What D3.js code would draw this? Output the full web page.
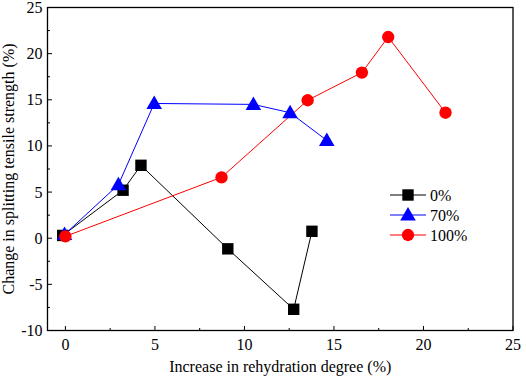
<!DOCTYPE html>
<html><head><meta charset="utf-8">
<script src="https://cdn.jsdelivr.net/npm/d3@7"></script>
<style>body{margin:0;background:#fff}svg{display:block}text{font-family:"Liberation Serif","Times New Roman",serif}</style>
</head><body>
<svg id="c" width="526" height="377"></svg>
<script>
const seriesNames = ["0%", "70%", "100%"];
const x0 = [-0.15, 3.22, 4.22, 9.07, 12.75, 13.77];
const y0 = [0.3, 5.2, 7.9, -1.15, -7.7, 0.75];
const x70 = [-0.05, 2.96, 4.96, 10.5, 12.55, 14.6];
const y70 = [0.4, 5.8, 14.6, 14.5, 13.6, 10.6];
const x100 = [0.0, 8.72, 13.53, 16.56, 18.03, 21.23];
const y100 = [0.2, 6.6, 14.95, 17.95, 21.8, 13.6];
const xTicks = [0, 5, 10, 15, 20, 25];
const yTicks = [-10, -5, 0, 5, 10, 15, 20, 25];
const xLabel = "Increase in rehydration degree (%)";
const yLabel = "Change in splitting tensile strength (%)";

const svg = d3.select("#c");
const L = 47.5, R = 513, T = 7.5, B = 330.5;
const x = d3.scaleLinear().domain([-1, 25]).range([L, R]);
const y = d3.scaleLinear().domain([-10, 25]).range([B, T]);

const series = [
  {name: seriesNames[0], xs: x0, ys: y0, color: "#000000", shape: "square"},
  {name: seriesNames[1], xs: x70, ys: y70, color: "#0000ff", shape: "triangle"},
  {name: seriesNames[2], xs: x100, ys: y100, color: "#ff0000", shape: "circle"}
];

// frame
svg.append("rect").attr("x", L).attr("y", T).attr("width", R - L).attr("height", B - T)
  .attr("fill", "none").attr("stroke", "#000").attr("stroke-width", 1.3);

// x axis
const xMinor = d3.range(2.5, 25, 5);
const gx = svg.append("g");
xTicks.forEach(t => {
  gx.append("line").attr("x1", x(t)).attr("x2", x(t)).attr("y1", B).attr("y2", B - 4.5).attr("stroke", "#000").attr("stroke-width", 1);
  gx.append("text").attr("x", x(t)).attr("y", B + 19.5).attr("text-anchor", "middle").attr("font-size", 16).text(t);
});
xMinor.forEach(t => {
  gx.append("line").attr("x1", x(t)).attr("x2", x(t)).attr("y1", B).attr("y2", B - 2.5).attr("stroke", "#000").attr("stroke-width", 1);
});
// y axis
const yMinor = d3.range(-7.5, 25, 5);
yTicks.forEach(t => {
  gx.append("line").attr("x1", L).attr("x2", L + 4.5).attr("y1", y(t)).attr("y2", y(t)).attr("stroke", "#000").attr("stroke-width", 1);
  gx.append("text").attr("x", L - 5).attr("y", y(t) + 5.5).attr("text-anchor", "end").attr("font-size", 16).text(t);
});
yMinor.forEach(t => {
  gx.append("line").attr("x1", L).attr("x2", L + 2.5).attr("y1", y(t)).attr("y2", y(t)).attr("stroke", "#000").attr("stroke-width", 1);
});

svg.append("text").attr("x", (L + R) / 2).attr("y", 372).attr("text-anchor", "middle").attr("font-size", 16).text(xLabel);
svg.append("text").attr("transform", `translate(14,${(T + B) / 2}) rotate(-90)`).attr("text-anchor", "middle").attr("font-size", 16).text(yLabel);

const symType = {square: d3.symbolSquare, triangle: d3.symbolTriangle, circle: d3.symbolCircle};
const symSize = {square: 130, triangle: 105, circle: 120};
const symOff = {square: 0, triangle: 1, circle: 0};

const line = d3.line();
series.forEach(s => {
  const pts = s.xs.map((v, i) => [x(v), y(s.ys[i])]);
  svg.append("path").attr("d", line(pts)).attr("fill", "none").attr("stroke", s.color).attr("stroke-width", 1);
});
series.forEach(s => {
  const sym = d3.symbol().type(symType[s.shape]).size(symSize[s.shape]);
  s.xs.forEach((v, i) => {
    svg.append("path").attr("d", sym()).attr("fill", s.color)
      .attr("transform", `translate(${x(v)},${y(s.ys[i]) + symOff[s.shape]})`);
  });
});

// legend
const lg = svg.append("g");
series.forEach((s, i) => {
  const yy = 195 + i * 20;
  lg.append("line").attr("x1", 390).attr("x2", 426).attr("y1", yy).attr("y2", yy).attr("stroke", s.color).attr("stroke-width", 1);
  const sym = d3.symbol().type(symType[s.shape]).size(symSize[s.shape]);
  lg.append("path").attr("d", sym()).attr("fill", s.color).attr("transform", `translate(408,${yy + symOff[s.shape]})`);
  lg.append("text").attr("x", 430).attr("y", yy + 5.5).attr("font-size", 16).text(s.name);
});
</script>
</body></html>
